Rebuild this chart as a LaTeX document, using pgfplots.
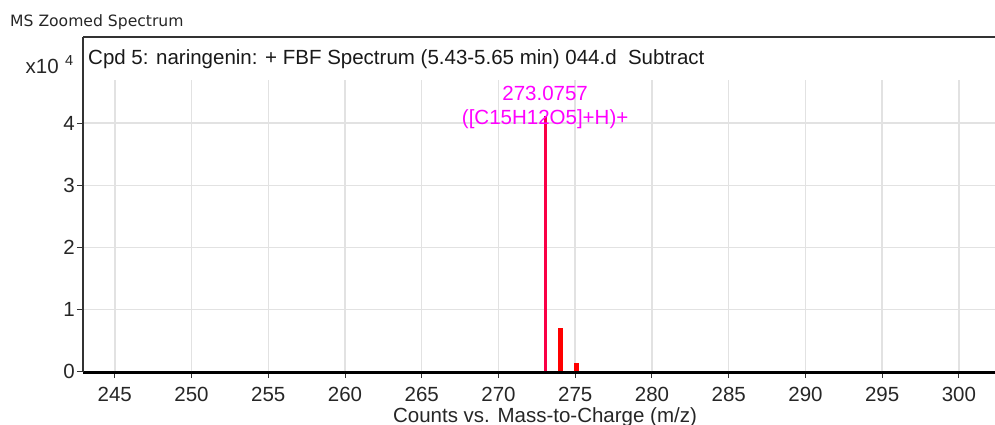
\documentclass[border=0pt]{standalone}
\usepackage{pgfplots}
\pgfplotsset{compat=1.18}
\usepackage{fontspec}
\setmainfont{Liberation Sans}
\newfontfamily\verdana{DejaVu Sans}
\definecolor{gridc}{RGB}{226,226,226}
\definecolor{peakmain}{RGB}{250,0,70}
\definecolor{anno}{RGB}{255,0,255}
\begin{document}
\begin{tikzpicture}
\path[use as bounding box] (0,0) rectangle (995bp,-425bp);
\begin{axis}[
  at={(83bp,-372bp)}, anchor=south west,
  scale only axis, width=912bp, height=335bp,
  xmin=242.93, xmax=302.35, ymin=-0.01, ymax=5.39,
  axis x line*=bottom, axis y line*=left,
  x axis line style={line width=3bp, black, -},
  y axis line style={line width=2bp, black!80, -},
  xtick={245,250,...,300}, ytick={0,1,2,3,4},
  tick align=outside, major tick length=6bp,
  tick style={black!80, line width=1bp},
  ymajorgrids, major grid style={gridc, line width=1.5bp},
  /pgf/number format/assume math mode=true,
  ticklabel style={font=\fontsize{20.5bp}{24bp}\selectfont, text=black!85},
  xticklabel style={anchor=north, inner sep=0pt, yshift=-9bp},
  yticklabel style={anchor=east, inner sep=0pt, xshift=-2bp},
  scaled y ticks=false,
  clip=true,
]
% vertical grid lines (stop below title area)
\addplot[ycomb, gridc, line width=1.5bp, forget plot, mark=none] coordinates {
 (245,4.70) (250,4.70) (255,4.70) (260,4.70) (265,4.70) (270,4.70)
 (275,4.70) (280,4.70) (285,4.70) (290,4.70) (295,4.70) (300,4.70)};
% peaks (counts x10^4)
\addplot[ycomb, peakmain, line width=3bp, mark=none] coordinates {(273.0757,4.11)};
\addplot[ycomb, red, line width=4.3bp, mark=none] coordinates {(274.04,0.70) (275.09,0.135)};
\node[anchor=base, inner sep=0pt, text=anno, font=\fontsize{20.5bp}{24bp}\selectfont] at (axis cs:273.04,4.36) {273.0757};
\node[anchor=base, inner sep=0pt, text=anno, font=\fontsize{20.5bp}{24bp}\selectfont] at (axis cs:273.04,3.973) {([C15H12O5]+H)+};
\end{axis}
\draw[line width=2bp, black!80] (83bp,-37bp) -- (996bp,-37bp);
\node[anchor=base west, inner sep=0pt, font=\verdana\fontsize{15.6bp}{18bp}\selectfont, text=black!85] at (10bp,-26.5bp) {MS Zoomed Spectrum};
\node[anchor=base west, inner sep=0pt, font=\fontsize{20.5bp}{24bp}\selectfont, text=black!90] at (88bp,-64bp) {Cpd 5: naringenin: + FBF Spectrum (5.43-5.65 min) 044.d\ \ Subtract};
\node[anchor=base east, inner sep=0pt, font=\fontsize{20.5bp}{24bp}\selectfont, text=black!85] at (59bp,-73bp) {x10};
\node[anchor=base west, inner sep=0pt, font=\fontsize{14.5bp}{17bp}\selectfont, text=black!85] at (65bp,-65bp) {4};
\node[anchor=base, inner sep=0pt, font=\fontsize{20.5bp}{24bp}\selectfont, text=black!85] at (545bp,-422.5bp) {Counts vs. Mass-to-Charge (m/z)};
\end{tikzpicture}
\end{document}
